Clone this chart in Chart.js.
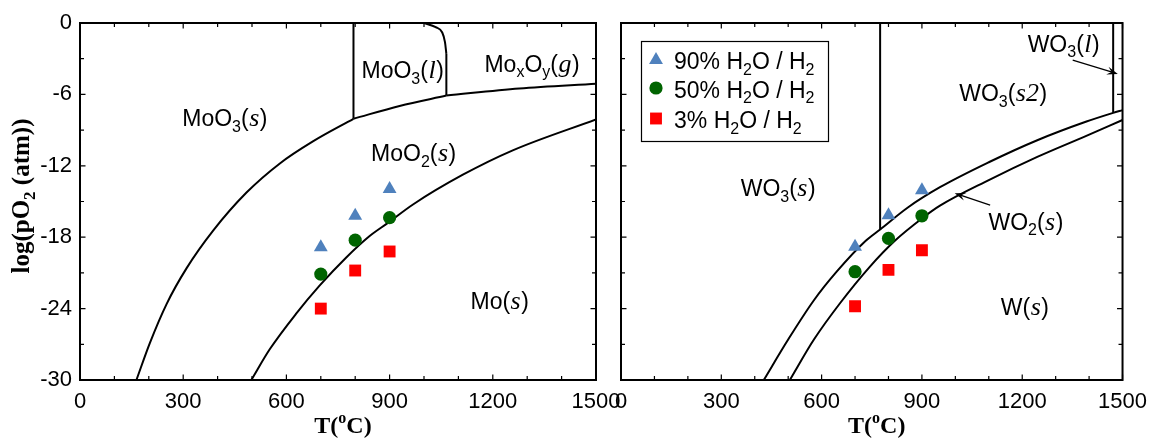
<!DOCTYPE html>
<html><head><meta charset="utf-8">
<script src="https://cdn.jsdelivr.net/npm/chart.js@4.4.0/dist/chart.umd.min.js"></script>
<style>
html,body{margin:0;padding:0;background:#fff;}
#wrap{position:relative;width:1156px;height:439px;overflow:hidden;}
#c1{position:absolute;left:0;top:0;width:640px;height:439px;}
#c2{position:absolute;left:600px;top:0;width:556px;height:439px;}
</style></head><body>
<div id="wrap"><canvas id="c1" width="640" height="439"></canvas><canvas id="c2" width="556" height="439"></canvas></div>
<script>
// ---------- data ----------
const xTicks = [0, 300, 600, 900, 1200, 1500];
const xTickLabels = ['0', '300', '600', '900', '1200', '1500'];
const yTicks = [0, -6, -12, -18, -24, -30];
const yTickLabels = ['0', '-6', '-12', '-18', '-24', '-30'];

const temps = [700, 800, 900];
// Mo panel measurements (log pO2)
const mo90 = [-18.85, -16.2, -13.95];
const mo50 = [-21.1, -18.25, -16.35];
const mo3 = [-24.0, -20.8, -19.2];
// W panel measurements
const w90 = [-18.8, -16.15, -14.05];
const w50 = [-20.9, -18.1, -16.2];
const w3 = [-23.8, -20.75, -19.1];

// Mo phase boundaries [T, log pO2]
const moO3MoO2 = [[164,-30],[203,-26.9],[252,-23.6],[310,-20.6],[387,-17.45],[484,-14.25],[581,-11.8],[677,-9.95],[795,-8.05]];
const moLiqMoO2 = [[795,-8.05],[929,-6.97],[1065,-6.1]];
const moGasMoO2 = [[1065,-6.1],[1277,-5.5],[1500,-5.1]];
const moO2Mo = [[498,-30],[552,-27.4],[629,-24.4],[697,-22.05],[774,-19.7],[842,-17.9],[895,-16.8],[968,-15.25],[1113,-12.75],[1258,-10.7],[1500,-8.1]];
const moSolLiq = [[795,0],[795,-8.05]];
const moLiqGasCurve = [[1000,0],[1034,-0.35],[1053,-0.8],[1061,-1.6],[1065,-2.6]];
const moLiqGasLine = [[1065,-2.6],[1065,-6.1]];

// W phase boundaries
const wO3WO2 = [[427,-30],[500,-26.6],[577,-23.3],[645,-20.9],[732,-18.3],[775,-17.35],[858,-15.5],[954,-13.8],[1100,-11.7],[1245,-9.85],[1390,-8.3],[1472,-7.55],[1500,-7.32]];
const wO2W = [[505,-30],[577,-26.6],[655,-23.55],[742,-20.55],[819,-18.3],[906,-16.3],[954,-15.35],[1100,-13.2],[1245,-11.25],[1390,-9.5],[1500,-8.15]];
const wSS2 = [[775,0],[775,-17.35]];
const wS2L = [[1472,0],[1472,-7.55]];

// region labels [text, T, log pO2]  (_ = subscript, ^ = superscript, *..* = italic)
const moLabels = [
  ['MoO_3(*s*)', 421, -8.0],
  ['MoO_3(*l*)', 938, -3.96],
  ['Mo_xO_y(*g*)', 1314, -3.41],
  ['MoO_2(*s*)', 970, -10.94],
  ['Mo(*s*)', 1220, -23.35]
];
const wLabels = [
  ['WO_3(*s*)', 470, -13.88],
  ['WO_3(*s2*)', 1143, -5.9],
  ['WO_3(*l*)', 1324, -1.71],
  ['WO_2(*s*)', 1211, -16.68],
  ['W(*s*)', 1208, -23.82]
];
const wArrows = [
  [[1351, -3.11], [1486, -4.28]],
  [[1104, -15.3], [998, -14.3]]
];
const legendLabels = ['90% H_2O / H_2', '50% H_2O / H_2', '3% H_2O / H_2'];
const seriesColors = ['#4f81bd', '#006400', '#ff0000'];
const seriesStyles = ['triangle', 'circle', 'rect'];
const seriesRadii = [8, 6.6, 8.4];
const xTitle = 'T(^oC)';
const yTitle = 'log(pO_2 (atm))';

// ---------- helpers ----------
function pts(arr){ return arr.map(p => ({x:p[0], y:p[1]})); }
function pairs(xs, ys){ return xs.map((x,i)=>({x, y: ys[i]})); }
function scatterDS(i, ys){
  return {label: legendLabels[i], data: pairs(temps, ys), pointStyle: seriesStyles[i],
    pointRadius: seriesRadii[i], pointHoverRadius: seriesRadii[i], backgroundColor: seriesColors[i],
    borderColor: seriesColors[i], pointBorderWidth: 0, borderWidth: 0, showLine: false};
}
function lineDS(arr){
  return {data: pts(arr), showLine: true, pointRadius: 0, borderColor: '#000', borderWidth: 2,
    fill: false, cubicInterpolationMode: 'monotone'};
}
function parseRich(s){
  const segs = []; let it = false;
  for (let i = 0; i < s.length; i++){
    const c = s[i];
    if (c === '*'){ it = !it; continue; }
    if (c === '_' || c === '^'){ segs.push({t: s[i+1], it, mode: c === '_' ? 'sub' : 'sup'}); i++; continue; }
    const last = segs[segs.length-1];
    if (last && last.mode === 'n' && last.it === it) last.t += c; else segs.push({t: c, it, mode: 'n'});
  }
  return segs;
}
function drawRich(ctx, s, x, y, o){
  const segs = parseRich(s);
  const fam = o.family || '"Liberation Sans"';
  const wt = o.weight || 'normal';
  const fontFor = g => {
    const sz = g.mode === 'n' ? o.size : Math.round(o.size * 0.68);
    if (g.it) return `italic ${wt} ${Math.round(sz*1.12)}px "Liberation Serif"`;
    return `${wt} ${sz}px ${fam}`;
  };
  let w = 0;
  segs.forEach(g => { ctx.font = fontFor(g); g.w = ctx.measureText(g.t).width + (g.it ? 1 : 0); w += g.w; });
  let cx = o.align === 'left' ? x : x - w/2;
  const base = y + 0.36 * o.size;
  ctx.textAlign = 'left'; ctx.textBaseline = 'alphabetic'; ctx.fillStyle = o.color || '#000';
  segs.forEach(g => {
    ctx.font = fontFor(g);
    let yy = base;
    if (g.mode === 'sub') yy += 0.24 * o.size;
    if (g.mode === 'sup') yy -= 0.42 * o.size;
    ctx.fillText(g.t, cx + (g.it ? 0.5 : 0), yy);
    cx += g.w;
  });
}
function frameTicks(chart){
  const {ctx, chartArea: a, scales: {x, y}} = chart;
  ctx.save();
  ctx.strokeStyle = '#000'; ctx.lineWidth = 1.2;
  ctx.beginPath();
  for (let v = x.min; v <= x.max; v += 100){
    const px = x.getPixelForValue(v); const L = v % 300 === 0 ? 5.5 : 4;
    ctx.moveTo(px, a.bottom); ctx.lineTo(px, a.bottom - L);
    ctx.moveTo(px, a.top); ctx.lineTo(px, a.top + L);
  }
  for (let v = y.min; v <= y.max; v += 3){
    const py = y.getPixelForValue(v); const L = v % 6 === 0 ? 5.5 : 4;
    ctx.moveTo(a.left, py); ctx.lineTo(a.left + L, py);
    ctx.moveTo(a.right, py); ctx.lineTo(a.right - L, py);
  }
  ctx.stroke();
  ctx.lineWidth = 2;
  ctx.strokeRect(a.left, a.top, a.right - a.left, a.bottom - a.top);
  ctx.restore();
}
function drawLabels(chart, labels){
  const {ctx, scales: {x, y}} = chart;
  ctx.save();
  labels.forEach(l => drawRich(ctx, l[0], x.getPixelForValue(l[1]), y.getPixelForValue(l[2]), {size: 23}));
  ctx.restore();
}
function drawTitles(chart, withY){
  const {ctx, chartArea: a} = chart;
  ctx.save();
  drawRich(ctx, xTitle, (a.left + a.right)/2 + 5, 424, {size: 24, weight: 'bold', family: '"Liberation Serif"'});
  if (withY){
    ctx.translate(20, 196); ctx.rotate(-Math.PI/2);
    drawRich(ctx, yTitle, 0, 0, {size: 25, weight: 'bold', family: '"Liberation Serif"'});
  }
  ctx.restore();
}
function drawArrow(ctx, x1, y1, x2, y2){
  const ang = Math.atan2(y2 - y1, x2 - x1), L = 11, W = 4;
  ctx.beginPath(); ctx.moveTo(x1, y1); ctx.lineTo(x2 - Math.cos(ang)*6, y2 - Math.sin(ang)*6); ctx.stroke();
  ctx.beginPath();
  ctx.moveTo(x2, y2);
  ctx.lineTo(x2 - L*Math.cos(ang) + W*Math.sin(ang), y2 - L*Math.sin(ang) - W*Math.cos(ang));
  ctx.lineTo(x2 - 0.6*L*Math.cos(ang), y2 - 0.6*L*Math.sin(ang));
  ctx.lineTo(x2 - L*Math.cos(ang) - W*Math.sin(ang), y2 - L*Math.sin(ang) + W*Math.cos(ang));
  ctx.closePath(); ctx.fill();
}
function drawLegend(chart){
  const {ctx} = chart;
  const bx = 41, by = 41, bw = 187, bh = 100;
  ctx.save();
  ctx.fillStyle = '#fff'; ctx.fillRect(bx, by, bw, bh);
  ctx.strokeStyle = '#000'; ctx.lineWidth = 1.2; ctx.strokeRect(bx + 0.5, by + 0.5, bw, bh);
  const rows = [61, 89.5, 120];
  legendLabels.forEach((lab, i) => {
    ctx.fillStyle = seriesColors[i];
    Chart.helpers.drawPoint(ctx, {pointStyle: seriesStyles[i], radius: seriesRadii[i], borderWidth: 0, rotation: 0},
      56, rows[i] + (i === 0 ? -1 : -1.5));
    drawRich(ctx, lab, 74, rows[i], {size: 23, align: 'left'});
  });
  ctx.restore();
}
const commonX = {
  type: 'linear', min: 0, max: 1500,
  afterBuildTicks: s => { s.ticks = xTicks.map(v => ({value: v})); },
  afterFit: s => { s.height = 59; },
  grid: {display: false, drawTicks: false}, border: {display: false},
  ticks: {padding: 9, autoSkip: false, maxRotation: 0, color: '#000',
    font: {family: '"Liberation Sans"', size: 22},
    callback: v => xTickLabels[xTicks.indexOf(v)]}
};
function yScale(showLabels, width){
  return {
    type: 'linear', min: -30, max: 0,
    afterBuildTicks: s => { s.ticks = yTicks.map(v => ({value: v})); },
    afterFit: s => { s.width = width; },
    grid: {display: false, drawTicks: false}, border: {display: false},
    ticks: {display: showLabels, padding: 8, color: '#000', font: {family: '"Liberation Sans"', size: 22},
      callback: v => yTickLabels[yTicks.indexOf(v)]}
  };
}
const baseOpts = {responsive: false, animation: false, devicePixelRatio: 1,
  plugins: {legend: {display: false}, tooltip: {enabled: false}}, events: []};

new Chart(document.getElementById('c1'), {
  type: 'scatter',
  data: {datasets: [
    scatterDS(0, mo90), scatterDS(1, mo50), scatterDS(2, mo3),
    lineDS(moO3MoO2), lineDS(moLiqMoO2), lineDS(moGasMoO2), lineDS(moO2Mo),
    lineDS(moSolLiq), lineDS(moLiqGasCurve), lineDS(moLiqGasLine)
  ]},
  options: Object.assign({}, baseOpts, {
    layout: {padding: {top: 23, right: 44, left: 0, bottom: 0}},
    scales: {x: commonX, y: yScale(true, 80)}
  }),
  plugins: [{id: 'deco1', afterDraw(chart){ frameTicks(chart); drawLabels(chart, moLabels); drawTitles(chart, true); }}]
});

new Chart(document.getElementById('c2'), {
  type: 'scatter',
  data: {datasets: [
    scatterDS(0, w90), scatterDS(1, w50), scatterDS(2, w3),
    lineDS(wO3WO2), lineDS(wO2W), lineDS(wSS2), lineDS(wS2L)
  ]},
  options: Object.assign({}, baseOpts, {
    layout: {padding: {top: 23, right: 18, left: 0, bottom: 0}},
    scales: {x: commonX, y: yScale(false, 21)}
  }),
  plugins: [{id: 'deco2', afterDraw(chart){
    frameTicks(chart); drawLabels(chart, wLabels); drawTitles(chart, false);
    const {ctx, scales: {x, y}} = chart;
    ctx.save(); ctx.strokeStyle = '#000'; ctx.fillStyle = '#000'; ctx.lineWidth = 1.3;
    wArrows.forEach(a => drawArrow(ctx, x.getPixelForValue(a[0][0]), y.getPixelForValue(a[0][1]),
      x.getPixelForValue(a[1][0]), y.getPixelForValue(a[1][1])));
    ctx.restore();
    drawLegend(chart);
  }}]
});
</script>
</body></html>
